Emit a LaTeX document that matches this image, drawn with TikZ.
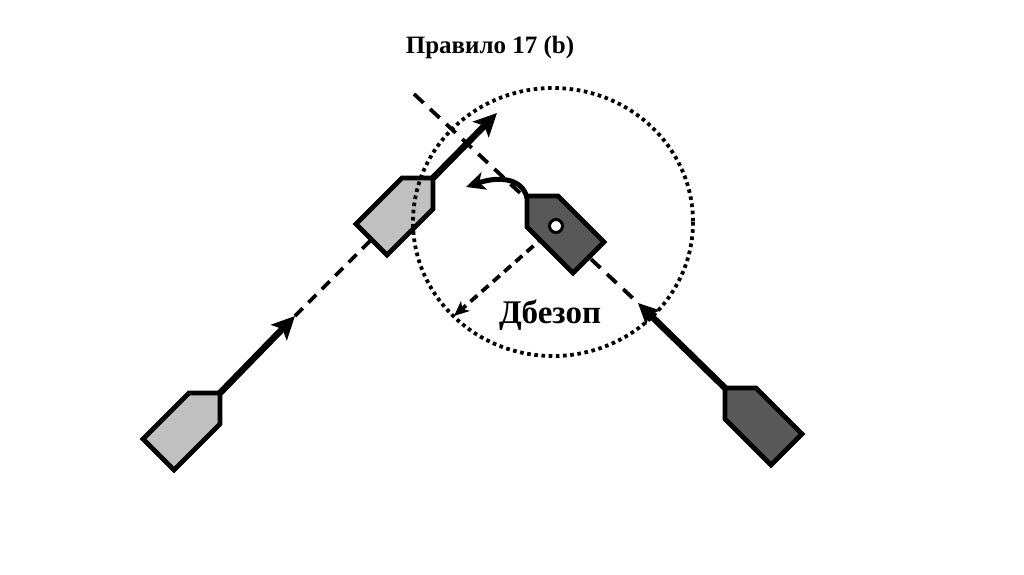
\documentclass[tikz,border=0pt]{standalone}
\usepackage{fontspec}
\setmainfont{Liberation Serif}
\usetikzlibrary{arrows.meta}
\definecolor{lightboat}{RGB}{192,192,192}
\definecolor{darkboat}{RGB}{88,88,88}
\tikzset{
  boatline/.style={draw=black, line width=4.8pt, line join=miter},
  lightfill/.style={boatline, fill=lightboat},
  darkfill/.style={boatline, fill=darkboat},
  course/.style={line width=6.5pt, -{Stealth[length=23pt,width=22pt,inset=5pt]}},
  track/.style={line width=3.8pt, dash pattern=on 13pt off 9pt},
  tracksmall/.style={line width=3.8pt, dash pattern=on 11pt off 8pt},
  distline/.style={line width=3.8pt, dash pattern=on 9pt off 6pt, -{Stealth[length=15pt,width=13pt,inset=4pt]}},
  turnarrow/.style={line width=5pt, -{Stealth[length=19pt,width=18pt,inset=5pt]}},
  zone/.style={line width=3.8pt, dash pattern=on 3.6pt off 3.6pt},
  titletext/.style={font=\bfseries\fontsize{25}{30}\selectfont, inner sep=0pt},
  labeltext/.style={font=\bfseries\fontsize{33}{38}\selectfont, inner sep=0pt}
}
\begin{document}
\begin{tikzpicture}[x=1pt,y=-1pt]
\path[use as bounding box, fill=white] (0,0) rectangle (1024,574);
% key points
\coordinate (lb1) at (220,393);   % lower light boat bow
\coordinate (lb2) at (433,178);   % upper light boat bow
\coordinate (lb2s) at (371.5,239.5); % upper light boat stern
\coordinate (db1) at (725,388);   % lower dark boat bow
\coordinate (db2) at (527,198);   % middle dark boat bow
\coordinate (db2b) at (527,196);
\coordinate (a1) at (295,316);    % lower light arrow tip
\coordinate (a2) at (497,113);    % upper light arrow tip
\coordinate (a3) at (638,303);    % dark arrow tip
\coordinate (t0) at (414,94);     % start of dark track
\coordinate (mark) at (556,226);  % marker on dark boat
\coordinate (d1) at (454,316);    % end of distance arrow
\coordinate (c1) at (466,187);    % end of turn arrow
\coordinate (zc) at (553,222);    % zone centre
% tracks
\draw[tracksmall] (a1) -- (lb2s);
\draw[track] (t0) -- (a3);
\draw[distline] (mark) -- (d1);
% boats
\draw[lightfill] (lb1) -- ++(0,31) -- ++(-46,46) -- ++(-31,-31) -- ++(46,-46) -- cycle;
\draw[lightfill] (lb2) -- ++(0,31) -- ++(-46,46) -- ++(-31,-31) -- ++(46,-46) -- cycle;
\draw[darkfill] (db1) -- ++(31,0) -- ++(46,46) -- ++(-31,31) -- ++(-46,-46) -- cycle;
\draw[darkfill] (db2b) -- ++(31,0) -- ++(46,46) -- ++(-31,31) -- ++(-46,-46) -- cycle;
\draw[line width=3pt, fill=white] (mark) circle[radius=6.5];
% zone
\draw[zone] (zc) ellipse[x radius=140, y radius=134];
% courses
\draw[course] (lb1) -- (a1);
\draw[course] (lb2) -- (a2);
\draw[course,-{Stealth[length=21pt,width=20pt,inset=5pt]}] (db1) -- (a3);
\draw[turnarrow] (db2) .. controls (523,180) and (502,175) .. (c1);
% texts
\node[titletext, anchor=base] (title) at (490,53) {Правило 17 (b)};
\node[labeltext, anchor=base] (label) at (550,323) {Дбезоп};
\end{tikzpicture}
\end{document}
